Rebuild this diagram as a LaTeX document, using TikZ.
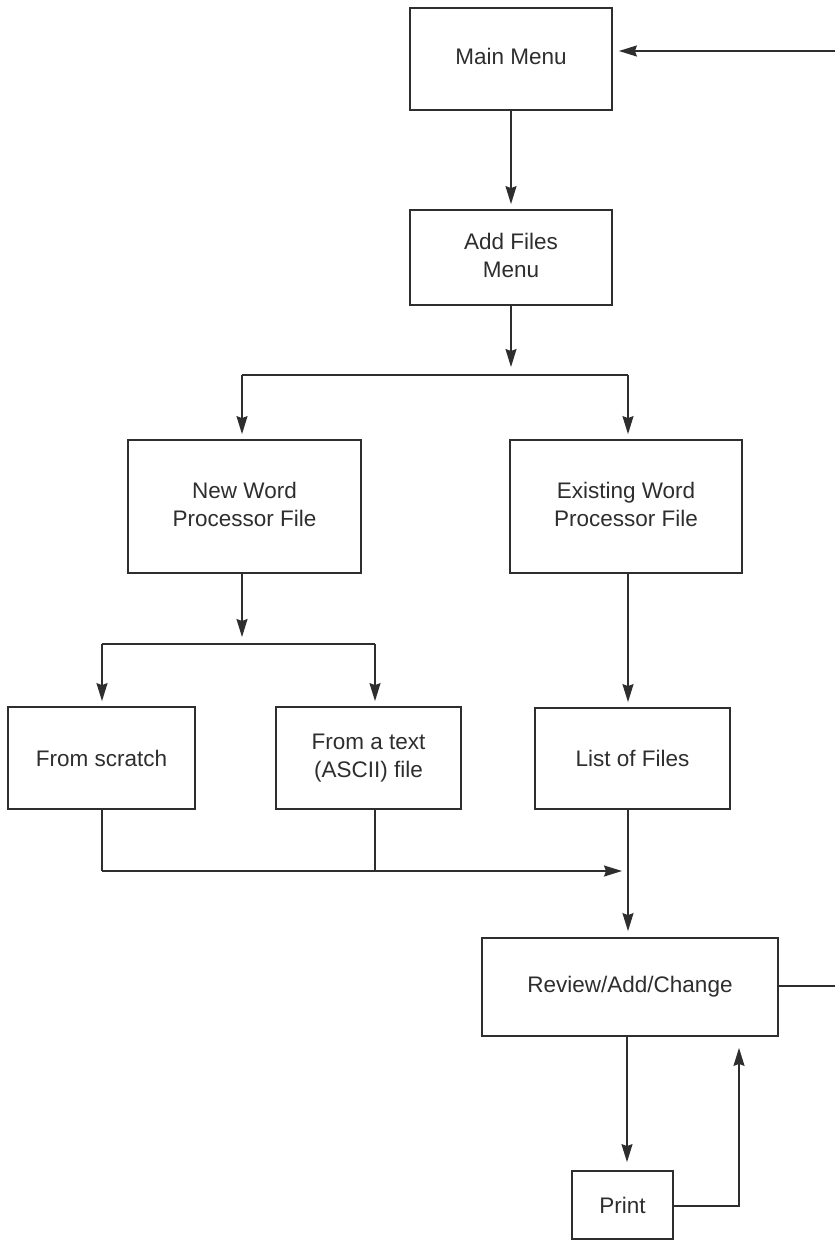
\documentclass[tikz,border=0pt]{standalone}
\usepackage{fontspec}
\setmainfont{Liberation Sans}
\usetikzlibrary{arrows.meta}
\definecolor{ink}{HTML}{2E2E2E}
\tikzset{
  box/.style={draw=ink, line width=1.8pt, rectangle, inner sep=0pt, text=ink,
    font=\fontsize{22.5}{28}\selectfont},
  wire/.style={draw=ink, line width=1.6pt},
  arr/.style={wire, -{Stealth[length=18pt,width=11pt,inset=2pt]}},
}
\newcommand{\twoline}[2]{\begin{tabular}{@{}c@{}}#1\\#2\end{tabular}}
\begin{document}
\begin{tikzpicture}[x=1pt,y=-1pt]
\useasboundingbox[fill=white] (0,0) rectangle (835,1240);

% boxes
\node[box, minimum width=202pt, minimum height=102pt] (main) at (511,59) {\raisebox{6pt}{Main Menu}};
\node[box, minimum width=202pt, minimum height=95pt] (add) at (511,257.5) {\twoline{Add Files}{Menu}};
\node[box, minimum width=233pt, minimum height=133pt] (newf) at (244.5,506.5) {\raisebox{7pt}{\twoline{New Word}{Processor File}}};
\node[box, minimum width=232pt, minimum height=133pt] (exist) at (626,506.5) {\raisebox{7pt}{\twoline{Existing Word}{Processor File}}};
\node[box, minimum width=187pt, minimum height=102pt] (scratch) at (101.5,758) {From scratch};
\node[box, minimum width=185pt, minimum height=102pt] (ascii) at (368.5,758) {\twoline{From a text}{(ASCII) file}};
\node[box, minimum width=195pt, minimum height=101pt] (list) at (632.5,758.5) {List of Files};
\node[box, minimum width=296pt, minimum height=98pt] (review) at (630,987) {\raisebox{3pt}{Review/Add/Change}};
\node[box, minimum width=101pt, minimum height=68pt] (print) at (622.5,1205) {Print};

% junction coordinates
\coordinate (s1L) at (242,375);
\coordinate (s1R) at (628,375);
\coordinate (s1M) at (511,375);
\coordinate (s2L) at (102,644);
\coordinate (s2R) at (375,644);
\coordinate (s2M) at (242,644);
\coordinate (m1L) at (102,871);
\coordinate (m1M) at (375,871);
\coordinate (m1R) at (628,871);
\coordinate (pR) at (739,1206);
\coordinate (eM) at (835,51);
\coordinate (eR) at (835,986);

% connectors
\draw[arr, shorten >=5pt] (main.south) -- (add.north);
\draw[arr, shorten >=8pt] (add.south) -- (s1M);
\draw[wire] (s1L) -- (s1R);
\draw[arr, shorten >=5pt] (s1L) -- (s1L |- newf.north);
\draw[arr, shorten >=5pt] (s1R) -- (s1R |- exist.north);

\draw[arr, shorten >=7pt] (s2M |- newf.south) -- (s2M);
\draw[wire] (s2L) -- (s2R);
\draw[arr, shorten >=5pt] (s2L) -- (s2L |- scratch.north);
\draw[arr, shorten >=5pt] (s2R) -- (s2R |- ascii.north);

\draw[arr, shorten >=5pt] (m1R |- exist.south) -- (m1R |- list.north);

\draw[wire] (m1L |- scratch.south) -- (m1L);
\draw[wire] (m1M |- ascii.south) -- (m1M);
\draw[arr, shorten >=6pt] (m1L) -- (m1R);
\draw[arr, shorten >=6pt] (m1R |- list.south) -- (m1R |- review.north);

\draw[arr, shorten >=8pt] (627,1036) -- (627,1036 |- print.north);
\draw[arr, shorten >=11pt] (print.east |- pR) -- (pR) -- (pR |- review.south);

\draw[wire] (review.east |- eR) -- (eR);
\draw[arr, shorten >=6pt] (eM) -- (main.east |- eM);
\end{tikzpicture}
\end{document}
